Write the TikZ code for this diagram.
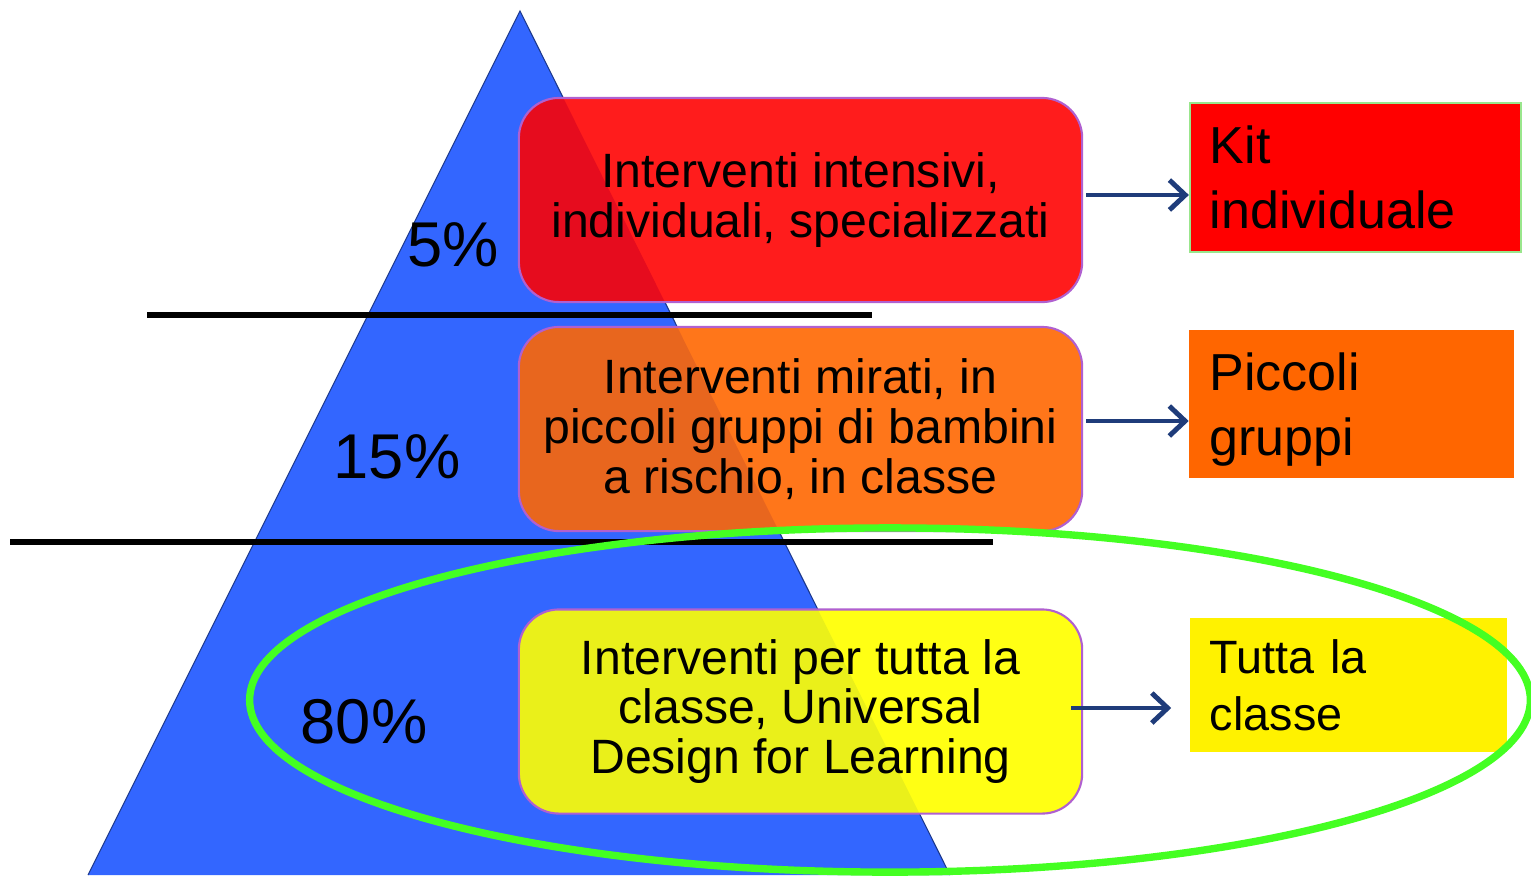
\documentclass[tikz,border=0pt]{standalone}
\usepackage{fontspec}
\setmainfont{Liberation Sans}
\usetikzlibrary{arrows.meta}
\definecolor{pyr}{HTML}{3366FF}
\definecolor{rlight}{HTML}{FF1C1C}
\definecolor{rdark}{HTML}{E60C1E}
\definecolor{olight}{HTML}{FF761A}
\definecolor{odark}{HTML}{E8661E}
\definecolor{ylight}{HTML}{FFFF14}
\definecolor{ydark}{HTML}{EAF01A}
\definecolor{boxedge}{HTML}{B060D0}
\definecolor{navy}{HTML}{1F3C7A}
\definecolor{ring}{HTML}{44FF22}
\definecolor{kitedge}{HTML}{99E68C}
\definecolor{sideorange}{HTML}{FF6600}
\tikzset{
  tier/.style={minimum width=5.63cm, minimum height=2.04cm, rounded corners=0.4cm,
    draw=boxedge, line width=0.6pt, align=center, inner sep=0pt,
    font=\fontsize{13.7}{14.2}\selectfont},
  side/.style={minimum width=3.31cm, minimum height=#1, inner sep=0pt,
    text width=2.91cm, align=left},
  sidetext/.style={font=\fontsize{14.8}{18.5}\selectfont},
  pct/.style={font=\fontsize{18}{21}\selectfont, inner sep=0pt},
  arr/.style={draw=navy, line width=1.4pt, -{Straight Barb[length=4.5pt,width=8.5pt,line width=1.4pt]}},
  sep/.style={line width=1.6pt, black}
}
\begin{document}
\begin{tikzpicture}[x=0.01cm, y=-0.01cm]
\useasboundingbox (0,0) rectangle (1531,875);
\fill[white] (0,0) rectangle (1531,875);
% pyramid
\coordinate (apex) at (520,11);
\coordinate (bl) at (88,875);
\coordinate (br) at (950,875);
\fill[pyr] (apex) -- (br) -- (bl) -- cycle;
\draw[pyr!55!black, line width=0.3pt] (bl) -- (apex) -- (br);
% separator lines
\draw[sep] (147,315) -- (872,315);
\draw[sep] (10,542) -- (993,542);
% tier boxes
\node[tier, fill=rlight, path picture={\fill[rdark] (apex) -- (br) -- (bl) -- cycle;}]
  (r1) at (800.5,200) {Interventi intensivi,\\individuali, specializzati};
\node[tier, fill=olight, path picture={\fill[odark] (apex) -- (br) -- (bl) -- cycle;}]
  (o1) at (800.5,429) {Interventi mirati, in\\piccoli gruppi di bambini\\a rischio, in classe};
\node[tier, fill=ylight, path picture={\fill[ydark] (apex) -- (br) -- (bl) -- cycle;}]
  (y1) at (800.5,711.5) {Interventi per tutta la\\classe, Universal\\Design for Learning};
% percentages
\node[pct] (p5) at (453,245) {5\%};
\node[pct] (p15) at (397,457) {15\%};
\node[pct] (p80) at (364,722) {80\%};
% side boxes
\node[side=1.49cm, sidetext, fill=red, draw=kitedge, line width=0.6pt] (k1) at (1355.5,177.5) {Kit\\individuale};
\node[minimum width=3.24cm, minimum height=1.48cm, inner sep=0pt, fill=sideorange] (k2) at (1351.5,404) {};
\node[sidetext, inner sep=0pt, text width=2.84cm, align=left] (k2t) at (1351.5,410) {Piccoli\\gruppi};
\node[side=1.34cm, fill=yellow, minimum width=3.17cm, text width=2.77cm, font=\fontsize{13.3}{16.3}\selectfont] (k3) at (1348.5,685) {Tutta la\\classe};
% arrows
\draw[arr] ([yshift=0.05cm,xshift=0.03cm]r1.east) -- ([yshift=0.05cm]r1.east -| k1.west);
\draw[arr] ([yshift=0.08cm,xshift=0.03cm]o1.east) -- ([yshift=0.08cm]o1.east -| k2.west);
\draw[arr] ([yshift=0.035cm,xshift=-0.12cm]y1.east) -- ([yshift=0.035cm,xshift=-0.18cm]y1.east -| k3.west);
% green ring
\draw[ring, line width=2.1pt] (890,700) ellipse [x radius=6.4cm, y radius=1.72cm];
\end{tikzpicture}
\end{document}
